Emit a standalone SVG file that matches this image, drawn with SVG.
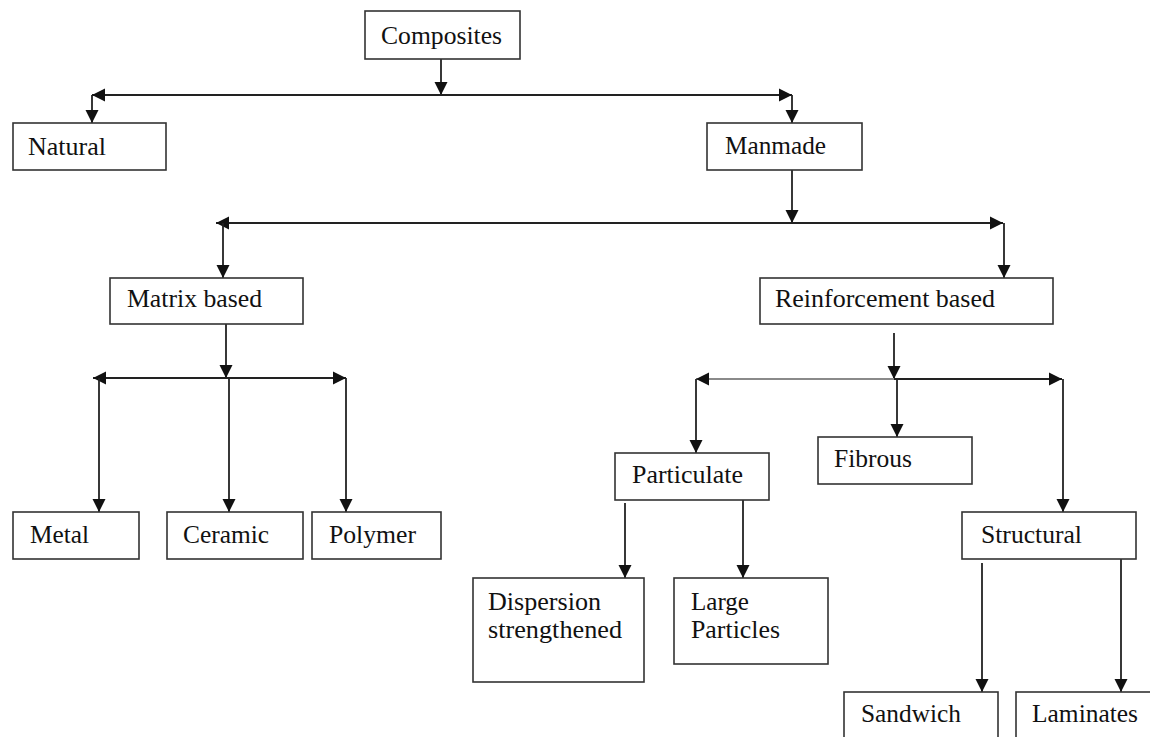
<svg xmlns="http://www.w3.org/2000/svg" width="1150" height="737" viewBox="0 0 1150 737">
<defs>
<marker id="ah" markerUnits="userSpaceOnUse" markerWidth="14" markerHeight="14" refX="13" refY="6.5" orient="auto" overflow="visible">
<path d="M0,0 L13,6.5 L0,13 Z" fill="#111"/>
</marker>
<style>
.box{fill:#fff;stroke:#333;stroke-width:1.6}
text{font-family:'Liberation Serif','Times New Roman',serif;font-size:25px;fill:#111}
.c{fill:none;stroke:#222;stroke-width:1.8;marker-end:url(#ah)}
.g{stroke:#8a8a8a}
</style>
</defs>
<rect width="1150" height="737" fill="#fff"/>
<g id="connectors">
<path class="c" d="M441,59 V95"/>
<path class="c" d="M441,95 H92"/>
<path class="c" d="M441,95 H792"/>
<path class="c" d="M92,95 V123"/>
<path class="c" d="M792,95 V123"/>
<path class="c" d="M792,170 V223"/>
<path class="c" d="M792,223 H216"/>
<path class="c" d="M792,223 H1003"/>
<path class="c" d="M223,223 V278"/>
<path class="c" d="M1004,223 V278"/>
<path class="c" d="M226,324 V378"/>
<path class="c" d="M228,378 H93"/>
<path class="c" d="M228,378 H346"/>
<path class="c" d="M99,378 V512"/>
<path class="c" d="M229,378 V512"/>
<path class="c" d="M346,378 V512"/>
<path class="c" d="M894,333 V379"/>
<path class="c g" d="M894,379 H696"/>
<path class="c" d="M894,379 H1062"/>
<path class="c" d="M696,379 V453"/>
<path class="c" d="M897,379 V437"/>
<path class="c" d="M1063,379 V512"/>
<path class="c" d="M625,503 V578"/>
<path class="c" d="M743,500 V578"/>
<path class="c" d="M982,563 V692"/>
<path class="c" d="M1121,559 V692"/>
</g>
<g id="composites"><rect class="box" x="365" y="11" width="155" height="48"/><text x="381" y="44" textLength="121" lengthAdjust="spacingAndGlyphs">Composites</text></g>
<g id="natural"><rect class="box" x="13" y="123" width="153" height="47"/><text x="28" y="155" textLength="78" lengthAdjust="spacingAndGlyphs">Natural</text></g>
<g id="manmade"><rect class="box" x="707" y="123" width="155" height="47"/><text x="725" y="154" textLength="101" lengthAdjust="spacingAndGlyphs">Manmade</text></g>
<g id="matrix"><rect class="box" x="110" y="278" width="193" height="46"/><text x="127" y="307" textLength="135" lengthAdjust="spacingAndGlyphs">Matrix based</text></g>
<g id="reinforcement"><rect class="box" x="760" y="278" width="293" height="46"/><text x="775" y="307" textLength="220" lengthAdjust="spacingAndGlyphs">Reinforcement based</text></g>
<g id="metal"><rect class="box" x="13" y="512" width="126" height="47"/><text x="30" y="543" textLength="59" lengthAdjust="spacingAndGlyphs">Metal</text></g>
<g id="ceramic"><rect class="box" x="167" y="512" width="136" height="47"/><text x="183" y="543" textLength="86" lengthAdjust="spacingAndGlyphs">Ceramic</text></g>
<g id="polymer"><rect class="box" x="312" y="512" width="129" height="47"/><text x="329" y="543" textLength="87" lengthAdjust="spacingAndGlyphs">Polymer</text></g>
<g id="particulate"><rect class="box" x="615" y="453" width="154" height="47"/><text x="632" y="483" textLength="111" lengthAdjust="spacingAndGlyphs">Particulate</text></g>
<g id="fibrous"><rect class="box" x="818" y="437" width="154" height="47"/><text x="834" y="467" textLength="78" lengthAdjust="spacingAndGlyphs">Fibrous</text></g>
<g id="structural"><rect class="box" x="962" y="512" width="174" height="47"/><text x="981" y="543" textLength="101" lengthAdjust="spacingAndGlyphs">Structural</text></g>
<g id="dispersion"><rect class="box" x="473" y="578" width="171" height="104"/><text x="488" y="610" textLength="113" lengthAdjust="spacingAndGlyphs">Dispersion</text><text x="488" y="638" textLength="134" lengthAdjust="spacingAndGlyphs">strengthened</text></g>
<g id="large"><rect class="box" x="674" y="578" width="154" height="86"/><text x="691" y="610" textLength="58" lengthAdjust="spacingAndGlyphs">Large</text><text x="691" y="638" textLength="89" lengthAdjust="spacingAndGlyphs">Particles</text></g>
<g id="sandwich"><rect class="box" x="844" y="692" width="154" height="60"/><text x="861" y="722" textLength="100" lengthAdjust="spacingAndGlyphs">Sandwich</text></g>
<g id="laminates"><rect class="box" x="1016" y="692" width="150" height="60"/><text x="1032" y="722" textLength="106" lengthAdjust="spacingAndGlyphs">Laminates</text></g>
</svg>
